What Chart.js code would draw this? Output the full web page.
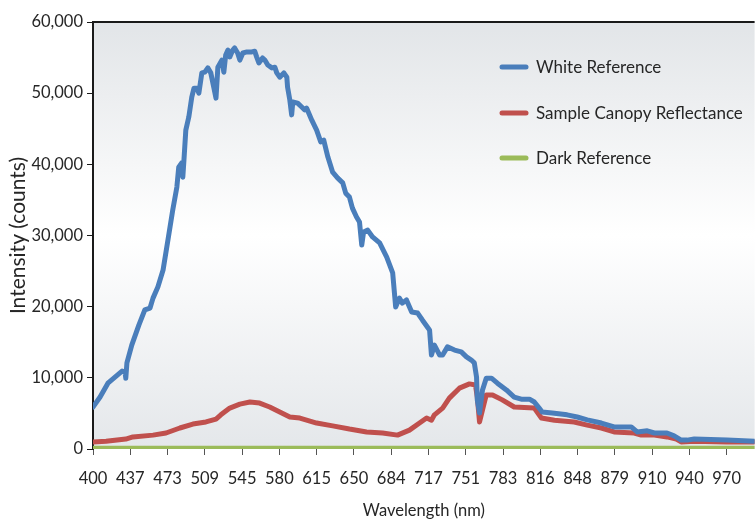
<!DOCTYPE html>
<html>
<head>
<meta charset="utf-8">
<script src="https://cdn.jsdelivr.net/npm/chart.js@4/dist/chart.umd.min.js"></script>
<style>
html,body{margin:0;padding:0;background:#fff;}
#wrap{width:755px;height:521px;}
</style>
</head>
<body>
<div id="wrap"><canvas id="c" width="755" height="521"></canvas></div>
<script>
// Tick labels along the wavelength axis (one every 10 detector channels)
const tickLabels = ["400","437","473","509","545","580","615","650","684","717","751","783","816","848","879","910","940","970"];

// White Reference: detector channel and intensity (counts)
const whiteChannel = [0,1.9,4.0,5.9,7.8,8.6,8.8,9.1,10.4,12.3,13.9,15.3,16.1,17.4,18.8,20.1,21.4,22.5,23.0,23.8,24.1,24.4,24.9,25.7,26.5,27.1,27.9,28.4,29.2,30.0,30.8,31.6,32.4,33.0,33.5,34.6,35.1,35.6,36.2,36.7,37.5,38.0,38.8,39.4,40.2,41.3,42.6,43.4,43.9,44.5,45.5,46.1,46.9,48.0,48.8,49.3,50.1,51.2,52.0,52.2,52.8,53.3,53.6,54.9,56.0,56.8,57.3,58.7,60.0,61.1,61.9,63.0,64.3,65.6,67.0,67.8,68.8,69.6,70.7,71.5,72.1,72.6,73.7,75.0,76.9,78.8,80.4,81.2,82.2,83.0,84.1,85.5,87.1,88.4,89.7,90.3,90.8,91.6,93.0,93.8,95.1,97.0,98.8,100.2,101.5,102.3,102.9,103.1,103.7,104.5,105.5,106.9,108.5,110.9,113.0,114.9,117.1,118.4,119.7,120.5,123.2,127.2,129.9,132.6,136.4,139.8,144.4,146.0,148.7,150.6,154.0,155.9,157.8,159.4,161.3,170.1,177.5];
const whiteCounts = [5900,7300,9250,10100,10950,10800,9950,12100,14600,17400,19550,19800,21200,22750,25150,29350,33600,36800,39600,40200,38200,40600,44800,46650,49450,50700,50700,50000,52850,52950,53550,52850,50850,49300,53650,54650,52950,55350,56050,55100,56050,56350,55650,54650,55650,55800,55800,55900,55100,54250,54950,54650,53950,53550,53650,52850,52250,52850,52250,50850,49050,46950,48750,48600,48050,47650,47900,46200,44800,43150,43400,41050,38900,38100,37400,35950,35400,33850,32600,31900,28650,30500,30750,29800,28950,26950,24750,19950,21200,20500,20950,19250,19100,18100,17150,16700,13200,14600,13200,13200,14350,13900,13650,12950,12500,12100,10100,6900,5050,8300,9950,9950,9250,8300,7300,7000,7000,6600,5750,5200,5050,4800,4500,4100,3650,3100,3100,2400,2550,2250,2250,1850,1250,1250,1400,1250,1100];

// Sample Canopy Reflectance
const canopyChannel = [0,3.5,8.8,10.7,16.1,19.6,23.3,26.8,30.3,33.0,34.3,36.7,39.4,42.1,44.7,47.4,50.1,52.8,55.5,60.0,64.3,68.8,73.4,77.7,81.7,84.9,87.6,89.5,90.8,91.6,93.8,95.6,98.3,101.0,102.6,103.1,103.7,104.5,105.5,107.2,109.8,113.0,118.4,120.3,123.8,129.1,132.6,136.4,139.8,145.2,147.1,150.6,154.0,156.5,157.8,161.3,170.1,177.5];
const canopyCounts = [1000,1100,1400,1700,1950,2250,2950,3500,3800,4200,4800,5750,6300,6600,6450,5900,5200,4500,4350,3650,3250,2800,2400,2250,1950,2650,3650,4350,4050,4800,5750,7150,8550,9150,9000,7300,3800,5500,7600,7600,6900,5900,5750,4350,4050,3800,3350,2950,2400,2250,1950,1950,1700,1400,1000,1100,1000,1000];

// Dark Reference
const darkChannel = [0,177.5];
const darkCounts = [100,100];

const seriesNames = ["White Reference","Sample Canopy Reflectance","Dark Reference"];
const colors = ["#4a7ebb","#c0504d","#9bbb59"];

function pts(xs, ys){ return xs.map((x,i)=>({x:x,y:ys[i]})); }

const FONT = "Lato, 'Open Sans', sans-serif";

const bgPlugin = {
  id:'bg',
  beforeDraw(chart){
    const {ctx, chartArea:a} = chart;
    ctx.save();
    ctx.fillStyle='#fff';
    ctx.fillRect(0,0,chart.width,chart.height);
    const g = ctx.createLinearGradient(0,a.top,0,a.bottom);
    g.addColorStop(0,'#e2e5e8');
    g.addColorStop(0.5,'#ffffff');
    g.addColorStop(1,'#e4e7ea');
    ctx.fillStyle=g;
    ctx.fillRect(a.left,a.top,a.right-a.left,a.bottom-a.top);
    ctx.restore();
  },
  afterDraw(chart){
    const {ctx, chartArea:a} = chart;
    ctx.save();
    ctx.strokeStyle='#1a1a1a';
    ctx.lineWidth=2;
    ctx.beginPath();
    ctx.moveTo(a.left-1,a.top);
    ctx.lineTo(a.right,a.top);
    ctx.stroke();
    // legend
    ctx.font = "17px " + FONT;
    ctx.textBaseline='middle';
    ctx.textAlign='left';
    const ys=[67,113,158];
    chart.data.datasets.forEach((ds,i)=>{
      ctx.strokeStyle=ds.borderColor;
      ctx.lineWidth=5;
      ctx.lineCap='round';
      ctx.beginPath();
      ctx.moveTo(502,ys[i]);
      ctx.lineTo(526,ys[i]);
      ctx.stroke();
      ctx.fillStyle='#262626';
      ctx.fillText(ds.label,536,ys[i]+1);
    });
    ctx.restore();
  }
};

new Chart(document.getElementById('c'),{
  type:'line',
  data:{
    datasets:[
      {label:seriesNames[0],data:pts(whiteChannel,whiteCounts),borderColor:colors[0]},
      {label:seriesNames[1],data:pts(canopyChannel,canopyCounts),borderColor:colors[1]},
      {label:seriesNames[2],data:pts(darkChannel,darkCounts),borderColor:colors[2]}
    ]
  },
  options:{
    responsive:false,
    animation:false,
    layout:{padding:{top:22,right:0,left:0,bottom:0}},
    elements:{
      point:{radius:0},
      line:{borderWidth:5,tension:0,borderCapStyle:'round',borderJoinStyle:'round',fill:false}
    },
    plugins:{legend:{display:false},tooltip:{enabled:false}},
    scales:{
      x:{
        type:'linear',min:0,max:177.5,
        afterFit(s){ s.height=72; },
        afterBuildTicks(s){ s.ticks = tickLabels.map((_,i)=>({value:i*10})); },
        ticks:{stepSize:10,autoSkip:false,maxRotation:0,padding:14,color:'#262626',
          font:{family:FONT,size:16.5},
          callback:(v)=>tickLabels[Math.round(v/10)] ?? ''},
        grid:{drawOnChartArea:false,drawTicks:true,tickLength:6,color:'#555',lineWidth:1},
        border:{display:false},
        title:{display:true,text:'Wavelength (nm)',color:'#262626',font:{family:FONT,size:16.5},padding:{top:0,bottom:0}}
      },
      y:{
        min:0,max:60000,
        afterFit(s){ s.width=93; },
        ticks:{stepSize:10000,padding:4,color:'#262626',font:{family:FONT,size:16.5},
          callback:(v)=>v.toLocaleString('en-US')},
        grid:{drawOnChartArea:false,drawTicks:true,tickLength:6,color:'#1a1a1a',lineWidth:1},
        border:{display:true,color:'#1a1a1a',width:2},
        title:{display:true,text:'Intensity (counts)',color:'#262626',font:{family:FONT,size:21},padding:{top:6,bottom:4}}
      }
    }
  },
  plugins:[bgPlugin]
});
</script>
</body>
</html>
